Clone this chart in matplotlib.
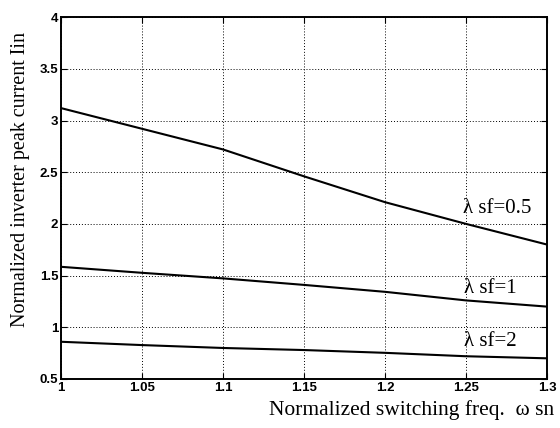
import numpy as np
import matplotlib.pyplot as plt

# normalized switching frequency
w_sn = [1.0, 1.05, 1.1, 1.15, 1.2, 1.25, 1.3]

# normalized inverter peak current for each lambda_sf
i_lam05 = [3.12, 2.92, 2.72, 2.46, 2.21, 2.00, 1.80]
i_lam1 = [1.585, 1.527, 1.473, 1.41, 1.343, 1.26, 1.20]
i_lam2 = [0.86, 0.828, 0.80, 0.78, 0.753, 0.72, 0.70]

labels = ['λ sf=0.5', 'λ sf=1', 'λ sf=2']
label_pos = [(1.269, 2.15), (1.265, 1.38), (1.265, 0.86)]

fig = plt.figure(figsize=(5.6, 4.28), dpi=100)
ax = fig.add_axes([0.109, 0.1145, 0.868, 0.8455])

for ys in (i_lam05, i_lam1, i_lam2):
    ax.plot(w_sn, ys, color='black', lw=1.5)

serif = ['Liberation Serif', 'DejaVu Serif']
for txt, (x, y) in zip(labels, label_pos):
    ax.text(x, y, txt, ha='center', va='center', fontsize=15, family=serif)

ax.set_xlim(1, 1.3)
ax.set_ylim(0.5, 4)
ax.set_xticks([1, 1.05, 1.1, 1.15, 1.2, 1.25, 1.3])
ax.set_xticklabels(['1', '1.05', '1.1', '1.15', '1.2', '1.25', '1.3'])
ax.set_yticks([0.5, 1, 1.5, 2, 2.5, 3, 3.5, 4])
ax.set_yticklabels(['0.5', '1', '1.5', '2', '2.5', '3', '3.5', '4'])
ax.grid(True, color='black', linestyle=(0, (1, 2)), lw=0.7)
ax.tick_params(direction='in', top=True, right=True, length=4, pad=2)
for lab in ax.get_xticklabels() + ax.get_yticklabels():
    lab.set_family('Liberation Sans')
    lab.set_fontweight('bold')
    lab.set_fontsize(9.5)
for sp in ax.spines.values():
    sp.set_linewidth(1.4)

fig.text(0.99, 0.042, 'Normalized switching freq.  ω sn', ha='right', va='center',
         fontsize=15.5, family=serif)
fig.text(0.036, 0.58, 'Normalized inverter peak current Iin', rotation=90,
         ha='center', va='center', fontsize=14.5, family=serif)

fig.savefig('out.png', dpi=100)
